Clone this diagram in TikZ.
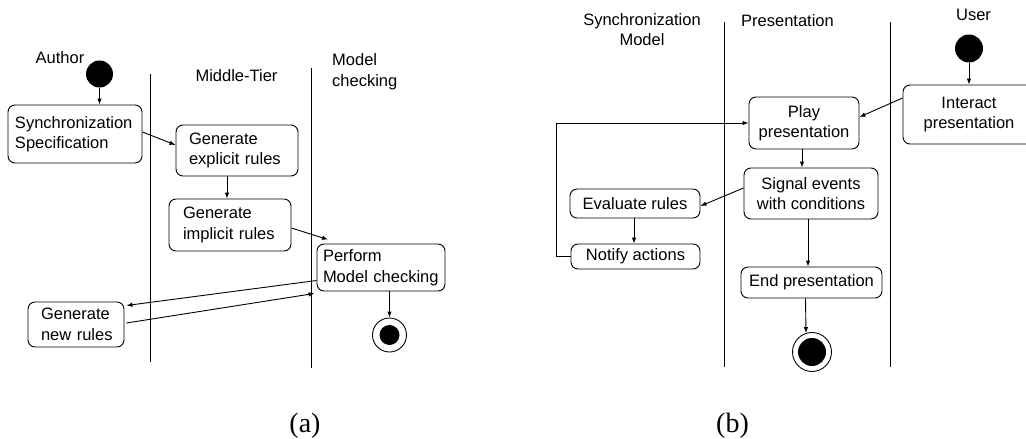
\documentclass[tikz,border=0pt]{standalone}
\usepackage{fontspec}
\setmainfont{Liberation Sans}
\newfontfamily\capfont{Liberation Serif}
\usetikzlibrary{arrows.meta}
\begin{document}
\begin{tikzpicture}[x=1pt,y=-1pt,
  txt/.style={font=\fontsize{16.5}{20.5}\selectfont},
  box/.style={txt, draw, rounded corners=7pt, line width=0.9pt, inner sep=0pt},
  lbl/.style={txt, inner sep=0pt},
  arr/.style={line width=0.9pt, -{Latex[length=6pt,width=4.5pt]}},
  lane/.style={line width=1pt},
  startdot/.style={circle, fill=black, inner sep=0pt},
  enddot/.style={circle, draw, line width=0.9pt, inner sep=0pt, fill=white},
  captext/.style={font=\capfont\fontsize{28}{30}\selectfont, inner sep=0pt}]
\useasboundingbox (0,0) rectangle (1026,439);
\clip (0,0) rectangle (1026,439);

% ---------- (a) ----------
\draw[lane] (150,74) -- (150,362);
\draw[lane] (311,68) -- (311,368);
\node[lbl, anchor=base] (author) at (60,63) {Author};
\node[lbl, anchor=base] (middle) at (236.5,81) {Middle-Tier};
\node[lbl, anchor=north west, align=left] (mclabel) at (332,53.5) {Model\\checking};

\node[startdot, minimum size=27pt] (starta) at (99.5,74) {};
\node[box, text width=120pt, inner xsep=7pt, minimum height=58pt, align=left] (spec) at (75,134) {Synchronization\\Specification};
\node[box, text width=96pt, inner xsep=13pt, minimum height=51pt, align=left] (explicit) at (237,150.5) {Generate\\explicit rules};
\node[box, text width=94pt, inner xsep=14pt, minimum height=52pt, align=left] (implicit) at (230,225) {Generate\\implicit rules};
\node[box, text width=116pt, inner xsep=6pt, minimum height=47pt, align=left] (perform) at (381,267.5) {Perform\\Model checking};
\node[box, text width=78pt, inner xsep=9pt, minimum height=45pt, align=left] (newrules) at (76,324.5) {\hspace*{4pt}Generate\\\hspace*{4pt}new rules};
\node[enddot, minimum size=34pt] (enda) at (389.5,335) {};
\fill (enda.center) circle (10pt);

\draw[arr] (starta) -- (starta |- spec.north);
\draw[arr] ([yshift=2pt]spec.east) -- ([yshift=5.5pt]explicit.west);
\draw[arr] ([xshift=-10pt]explicit.south) -- ([xshift=-3pt]implicit.north);
\draw[arr] ([yshift=-3pt]implicit.east) -- ([xshift=-53pt,yshift=4pt]perform.north);
\draw[arr] ([yshift=-13pt]perform.west) -- ([xshift=2pt,yshift=19pt]newrules.east);
\draw[arr] ([xshift=2pt,yshift=1.5pt]newrules.east) -- ([xshift=-2pt,yshift=-2pt]perform.south west);
\draw[arr] (perform.south -| enda) -- (enda.north);

% ---------- (b) ----------
\draw[lane] (724,22) -- (724,367);
\draw[lane] (890,22) -- (890,367);
\node[lbl, anchor=north, align=center] (smlabel) at (642,13) {Synchronization\\Model};
\node[lbl, anchor=base] (preslabel) at (787.5,27) {Presentation};
\node[lbl, anchor=base] (userlabel) at (973.5,20) {User};

\node[startdot, minimum size=28pt] (startb) at (969,48.5) {};
\node[box, minimum width=132pt, minimum height=59pt, align=center] (interact) at (969,114.5) {Interact\\presentation};
\node[box, minimum width=110pt, minimum height=52pt, align=center] (play) at (804,123) {Play\\presentation};
\node[box, minimum width=134pt, minimum height=51pt, align=center] (signal) at (811,193.5) {Signal events\\with conditions};
\node[box, minimum width=130pt, minimum height=29pt, align=center] (evaluate) at (635,203.5) {Evaluate rules};
\node[box, minimum width=129pt, minimum height=25pt, align=center] (notify) at (635.5,256.5) {Notify actions};
\node[box, minimum width=141pt, minimum height=31pt, align=center] (endp) at (811.5,282.5) {End presentation};
\node[enddot, minimum size=39pt] (endb) at (812,352) {};
\fill (endb.center) circle (14pt);

\draw[arr] (startb) -- (startb |- interact.north);
\draw[arr] ([yshift=16.5pt]interact.west) -- ([yshift=6pt]play.east);
\draw[arr] (notify.west) -- ++(-14,0) |- (play.west);
\draw[arr] ([xshift=-2pt]play.south) -- ([xshift=-9pt]signal.north);
\draw[arr] ([yshift=5.5pt]signal.west) -- ([yshift=-2.5pt]evaluate.east);
\draw[arr] ([xshift=-1pt]evaluate.south) -- ([xshift=-1.5pt]notify.north);
\draw[arr] ([xshift=-3pt]signal.south) -- ([xshift=-3.5pt]endp.north);
\draw[arr] ([xshift=-6pt]endp.south) -- ([xshift=-6pt,yshift=-1pt]endb.north);

% ---------- captions ----------
\node[captext, anchor=base] (capa) at (305,432) {(a)};
\node[captext, anchor=base] (capb) at (732.5,432) {(b)};
\end{tikzpicture}
\end{document}
